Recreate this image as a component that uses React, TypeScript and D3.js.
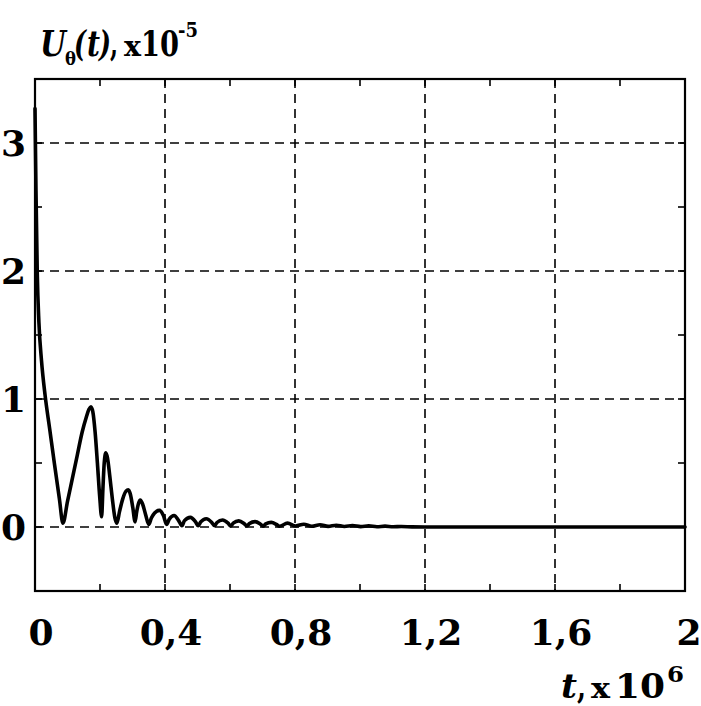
import React from "react";
import * as d3 from "d3";

// Curve samples (t in 1e6 units, U in 1e-5 units)
const tValues = [
  0, 0.003, 0.007, 0.012, 0.02, 0.031, 0.045, 0.06, 0.075, 0.086,
  0.1, 0.115, 0.13, 0.145, 0.158, 0.166, 0.172, 0.178, 0.185, 0.192, 0.199, 0.205,
  0.209, 0.213, 0.218, 0.223, 0.23, 0.238, 0.246, 0.252,
  0.26, 0.27, 0.28, 0.287, 0.294, 0.301, 0.308,
  0.313, 0.318, 0.324, 0.331, 0.34, 0.35,
  0.358, 0.368, 0.383, 0.395, 0.405,
  0.413, 0.428, 0.442, 0.452,
  0.46, 0.478, 0.494, 0.502,
  0.51, 0.527, 0.544, 0.552,
  0.56, 0.577, 0.594, 0.602,
  0.61, 0.627, 0.644, 0.652,
  0.66, 0.677, 0.694, 0.702,
  0.71, 0.727, 0.744, 0.752,
  0.777, 0.802, 0.827, 0.852, 0.877, 0.902, 0.927, 0.952, 0.977, 1.002,
  1.027, 1.052, 1.077, 1.102, 1.127, 1.16, 1.2, 1.6, 2.0,
];
const uValues = [
  3.27, 2.63, 1.98, 1.6, 1.3, 1.03, 0.77, 0.49, 0.22, 0.03,
  0.2, 0.38, 0.56, 0.74, 0.86, 0.92, 0.94, 0.9, 0.74, 0.5, 0.24, 0.08,
  0.3, 0.5, 0.58, 0.54, 0.4, 0.22, 0.07, 0.03,
  0.12, 0.22, 0.28, 0.29, 0.25, 0.15, 0.04,
  0.12, 0.18, 0.21, 0.18, 0.1, 0.02,
  0.07, 0.11, 0.13, 0.09, 0.02,
  0.06, 0.09, 0.05, 0.01,
  0.05, 0.075, 0.04, 0.01,
  0.04, 0.065, 0.035, 0.01,
  0.035, 0.055, 0.03, 0.008,
  0.03, 0.048, 0.025, 0.008,
  0.027, 0.042, 0.022, 0.007,
  0.024, 0.036, 0.018, 0.006,
  0.03, 0.008, 0.022, 0.006, 0.018, 0.005, 0.014, 0.004, 0.011, 0.003,
  0.009, 0.002, 0.007, 0.002, 0.004, 0.001, 0, 0, 0,
];

const xGrid = [0.4, 0.8, 1.2, 1.6];
const yGrid = [0, 1, 2, 3];
const xTickLabels = ["0", "0,4", "0,8", "1,2", "1,6", "2"];
const xTickValues = [0, 0.4, 0.8, 1.2, 1.6, 2];
const xLabelOffsets = [6, 6, 6, 6, 6, 4];
const yTickLabels = ["0", "1", "2", "3"];
const yTickValues = [0, 1, 2, 3];
const xMinor = d3.range(0, 2.0001, 0.2);
const yMinor = d3.range(-0.5, 3.5001, 0.5);

const W = 701;
const H = 706;
const L = 35, R = 685, T = 79, B = 591;
const FONT = "'DejaVu Serif', serif";

export default function App() {
  const x = d3.scaleLinear().domain([0, 2]).range([L, R]);
  const y = d3.scaleLinear().domain([-0.5, 3.5]).range([B, T]);
  const pts: [number, number][] = tValues.map((t, i) => [t, uValues[i]]);
  const line = d3
    .line<[number, number]>()
    .x((d) => x(d[0]))
    .y((d) => y(d[1]))
    .curve(d3.curveMonotoneX);
  const tickLen = 7;
  return (
    <div style={{ position: "absolute", left: 0, top: 0 }}>
      <svg width={W} height={H} style={{ display: "block", background: "#fff" }}>
        <rect x={0} y={0} width={W} height={H} fill="#fff" />
        {/* grid */}
        {xGrid.map((v) => (
          <line key={"gx" + v} x1={x(v)} x2={x(v)} y1={T} y2={B} stroke="#000" strokeWidth={1.6} strokeDasharray="9,6" />
        ))}
        {yGrid.map((v) => (
          <line key={"gy" + v} x1={L} x2={R} y1={y(v)} y2={y(v)} stroke="#000" strokeWidth={1.6} strokeDasharray="9,6" />
        ))}
        {/* minor ticks */}
        {xMinor.map((v) => (
          <g key={"tx" + v}>
            <line x1={x(v)} x2={x(v)} y1={B} y2={B - tickLen} stroke="#000" strokeWidth={1.6} />
            <line x1={x(v)} x2={x(v)} y1={T} y2={T + tickLen} stroke="#000" strokeWidth={1.6} />
          </g>
        ))}
        {yMinor.map((v) => (
          <g key={"ty" + v}>
            <line x1={L} x2={L + tickLen} y1={y(v)} y2={y(v)} stroke="#000" strokeWidth={1.6} />
            <line x1={R} x2={R - tickLen} y1={y(v)} y2={y(v)} stroke="#000" strokeWidth={1.6} />
          </g>
        ))}
        {/* curve */}
        <path d={line(pts) || ""} fill="none" stroke="#000" strokeWidth={3.6} strokeLinejoin="round" strokeLinecap="round" />
        {/* frame */}
        <rect x={L} y={T} width={R - L} height={B - T} fill="none" stroke="#000" strokeWidth={2.2} />
        {/* tick labels */}
        {xTickValues.map((v, i) => (
          <text key={"xl" + v} x={x(v) + xLabelOffsets[i]} y={645} textAnchor="middle" fontFamily={FONT} fontWeight="bold" fontSize={36}>
            {xTickLabels[i]}
          </text>
        ))}
        {yTickValues.map((v, i) => (
          <text key={"yl" + v} x={26} y={y(v) + 13} textAnchor="end" fontFamily={FONT} fontWeight="bold" fontSize={36}>
            {yTickLabels[i]}
          </text>
        ))}
        {/* y title */}
        <g fontFamily={FONT} fontWeight="bold">
          <text x={40} y={56} fontSize={36} fontStyle="italic" textLength={26} lengthAdjust="spacingAndGlyphs">U</text>
          <text x={65} y={65} fontSize={19} textLength={11} lengthAdjust="spacingAndGlyphs">θ</text>
          <text x={74} y={56} fontSize={35} fontStyle="italic" textLength={12} lengthAdjust="spacingAndGlyphs">(</text>
          <text x={87} y={56} fontSize={35} fontStyle="italic" textLength={13} lengthAdjust="spacingAndGlyphs">t</text>
          <text x={99} y={56} fontSize={35} fontStyle="italic" textLength={12} lengthAdjust="spacingAndGlyphs">)</text>
          <text x={110} y={56} fontSize={35} textLength={8} lengthAdjust="spacingAndGlyphs">,</text>
          <text x={124} y={56} fontSize={28} textLength={17} lengthAdjust="spacingAndGlyphs">x</text>
          <text x={141} y={56} fontSize={36} textLength={38} lengthAdjust="spacingAndGlyphs">10</text>
          <text x={178} y={37} fontSize={21} textLength={20} lengthAdjust="spacingAndGlyphs">-5</text>
        </g>
        {/* x title */}
        <g fontFamily={FONT} fontWeight="bold">
          <text x={561} y={698} fontSize={34} fontStyle="italic" textLength={16} lengthAdjust="spacingAndGlyphs">t</text>
          <text x={577} y={698} fontSize={34} textLength={9} lengthAdjust="spacingAndGlyphs">,</text>
          <text x={591} y={698} fontSize={28} textLength={19} lengthAdjust="spacingAndGlyphs">x</text>
          <text x={615} y={698} fontSize={34} textLength={50} lengthAdjust="spacingAndGlyphs">10</text>
          <text x={667} y={682} fontSize={23} textLength={17} lengthAdjust="spacingAndGlyphs">6</text>
        </g>
      </svg>
    </div>
  );
}
